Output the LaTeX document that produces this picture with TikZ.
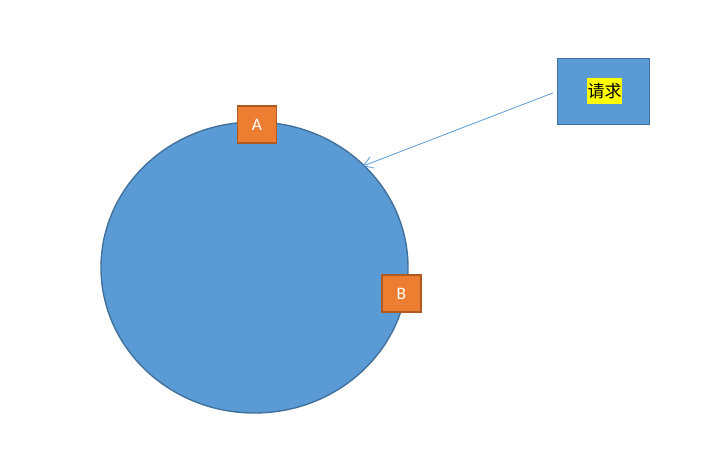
\documentclass[tikz,border=0pt]{standalone}
\usepackage{fontspec}
\setmainfont{Carlito}
\newfontfamily\cjkfont{Noto Sans CJK SC}
\usetikzlibrary{arrows.meta,shapes.geometric}
\definecolor{ringblue}{HTML}{5B9BD5}
\definecolor{ringedge}{HTML}{41719C}
\definecolor{boxorange}{HTML}{ED7D31}
\definecolor{boxedge}{HTML}{AE5A21}
\definecolor{hl}{HTML}{FFFF00}
\tikzset{
  ringstyle/.style={ellipse, draw=ringedge, fill=ringblue, line width=1.4pt, inner sep=0pt},
  serverbox/.style={rectangle, draw=boxedge, fill=boxorange, line width=1.8pt, minimum width=39pt, minimum height=37pt, inner sep=0pt, text=white, font=\fontsize{17.5}{19}\selectfont},
  reqbox/.style={rectangle, draw=ringedge, fill=ringblue, line width=1.8pt, minimum width=92pt, minimum height=66pt, inner sep=0pt},
  hlbox/.style={rectangle, fill=hl, minimum width=35pt, minimum height=26pt, inner sep=0pt, font=\cjkfont\fontsize{17}{19}\selectfont},
  reqarrow/.style={draw=ringblue, line width=0.8pt, -{Straight Barb[length=9pt,width=12pt,line width=0.8pt]}},
}
\begin{document}
\begin{tikzpicture}[x=1pt,y=-1pt]
\useasboundingbox (0,0) rectangle (718,471);
\node[ringstyle, minimum width=307pt, minimum height=291pt] (ring) at (254.5,267.5) {};
\node[serverbox] (A) at (257,124.5) {A};
\node[serverbox] (B) at (401.5,293.5) {B};
\node[reqbox] (req) at (603.5,91.5) {};
\node[hlbox] (reqtext) at (604.5,91) {请求};
\coordinate (tip) at (363,166);
\draw[reqarrow, shorten <=4pt] (req.west) -- (tip);
\end{tikzpicture}
\end{document}
